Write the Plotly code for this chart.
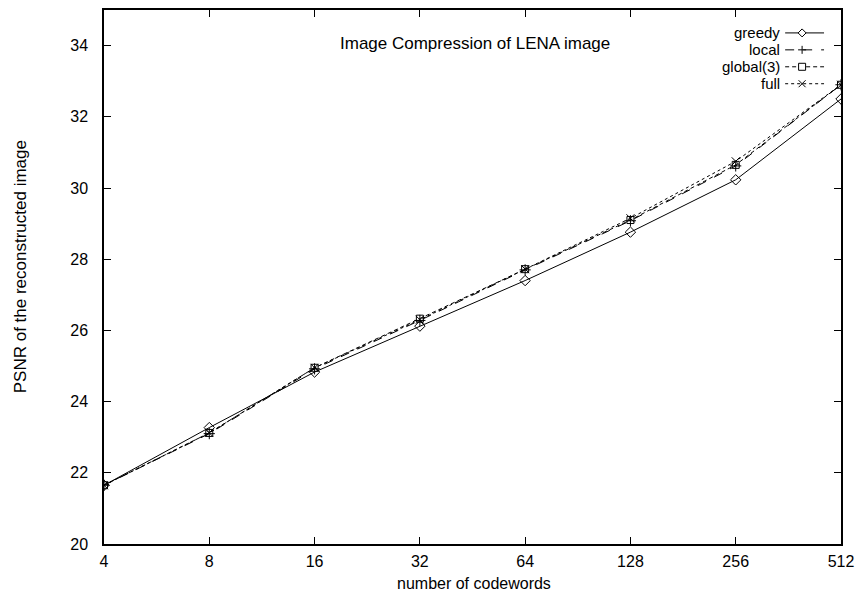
import plotly.graph_objects as go

codewords = [4, 8, 16, 32, 64, 128, 256, 512]
greedy = [21.65, 23.27, 24.83, 26.12, 27.40, 28.76, 30.23, 32.50]
local = [21.65, 23.10, 24.92, 26.28, 27.70, 29.08, 30.62, 32.90]
global3 = [21.65, 23.12, 24.95, 26.33, 27.72, 29.10, 30.65, 32.90]
full = [21.65, 23.12, 24.95, 26.30, 27.72, 29.15, 30.75, 32.90]
y_ticks = [20, 22, 24, 26, 28, 30, 32, 34]

series = [
    ("greedy", greedy, "solid", "diamond-open", 8),
    ("local", local, "dash", "cross-thin-open", 8),
    ("global(3)", global3, "4px,3px", "square-open", 7),
    ("full", full, "dot", "x-thin-open", 8),
]

# pixel geometry of the plot area
L, R, T, B = 104, 843, 8, 544
W, H = R - L, B - T
def px(x):
    return (x - L) / W
def py(y):
    return 1 - (y - T) / H

fig = go.Figure()
for name, vals, dash, sym, size in series:
    fig.add_trace(go.Scatter(
        x=codewords, y=vals, name=name, mode="lines+markers",
        line=dict(color="black", width=1, dash=dash),
        marker=dict(symbol=sym, size=size, color="black",
                    line=dict(color="black", width=1)),
        showlegend=False,
    ))

# gnuplot-style key: label on the left, sample on the right
marker_paths = {
    "diamond-open": "M0,-4L4,0L0,4L-4,0Z",
    "cross-thin-open": "M-4,0L4,0M0,-4L0,4",
    "square-open": "M-3.5,-3.5L3.5,-3.5L3.5,3.5L-3.5,3.5Z",
    "x-thin-open": "M-3.5,-3.5L3.5,3.5M-3.5,3.5L3.5,-3.5",
}
rows = [31, 48, 65, 82]
shapes = []
annotations = []
for (name, vals, dash, sym, size), ry in zip(series, rows):
    annotations.append(dict(text=name, x=px(783), y=py(ry), xref="paper",
                            yref="paper", xanchor="right", yanchor="middle",
                            showarrow=False, borderpad=0,
                            font=dict(size=15)))
    shapes.append(dict(type="line", xref="paper", yref="paper",
                       x0=px(787), x1=px(826), y0=py(ry), y1=py(ry),
                       line=dict(color="black", width=1, dash=dash)))
    shapes.append(dict(type="path", xref="paper", yref="paper",
                       xsizemode="pixel", ysizemode="pixel",
                       xanchor=px(804), yanchor=py(ry),
                       path=marker_paths[sym],
                       fillcolor="white" if sym in ("diamond-open", "square-open") else None,
                       line=dict(color="black", width=1)))

font_family = "Liberation Sans, Arial, sans-serif"
fs = 16
axis_common = dict(
    showline=True, linecolor="black", linewidth=1.5, mirror="ticks",
    ticks="inside", ticklen=7, tickcolor="black", tickwidth=1,
    showgrid=False, zeroline=False,
    tickfont=dict(family=font_family, size=fs, color="black"),
)

annotations += [
    dict(text="Image Compression of LENA image",
         x=px(476), y=py(42), xref="paper", yref="paper",
         xanchor="center", yanchor="middle",
         showarrow=False, font=dict(size=17)),
    dict(text="PSNR of the reconstructed image", textangle=-90,
         x=px(20), y=py(266), xref="paper", yref="paper",
         xanchor="center", yanchor="middle",
         showarrow=False, font=dict(size=17)),
    dict(text="number of codewords",
         x=px(475), y=py(584), xref="paper", yref="paper",
         xanchor="center", yanchor="middle", borderpad=0,
         showarrow=False, font=dict(size=fs)),
]

fig.update_layout(
    width=862, height=598,
    paper_bgcolor="white", plot_bgcolor="white",
    margin=dict(l=L, r=862 - R, t=T, b=598 - B),
    font=dict(family=font_family, size=fs, color="black"),
    showlegend=False,
    xaxis=dict(type="log", range=[0.60206, 2.70927],
               tickvals=codewords, ticktext=[str(c) for c in codewords],
               ticklabelstandoff=2, **axis_common),
    yaxis=dict(range=[20, 35], tickvals=y_ticks, ticklabelstandoff=11,
               **axis_common),
    annotations=annotations,
    shapes=shapes,
)

fig.write_html("out.html", config={"displayModeBar": False},
               post_script="document.body.style.margin='0px';")
